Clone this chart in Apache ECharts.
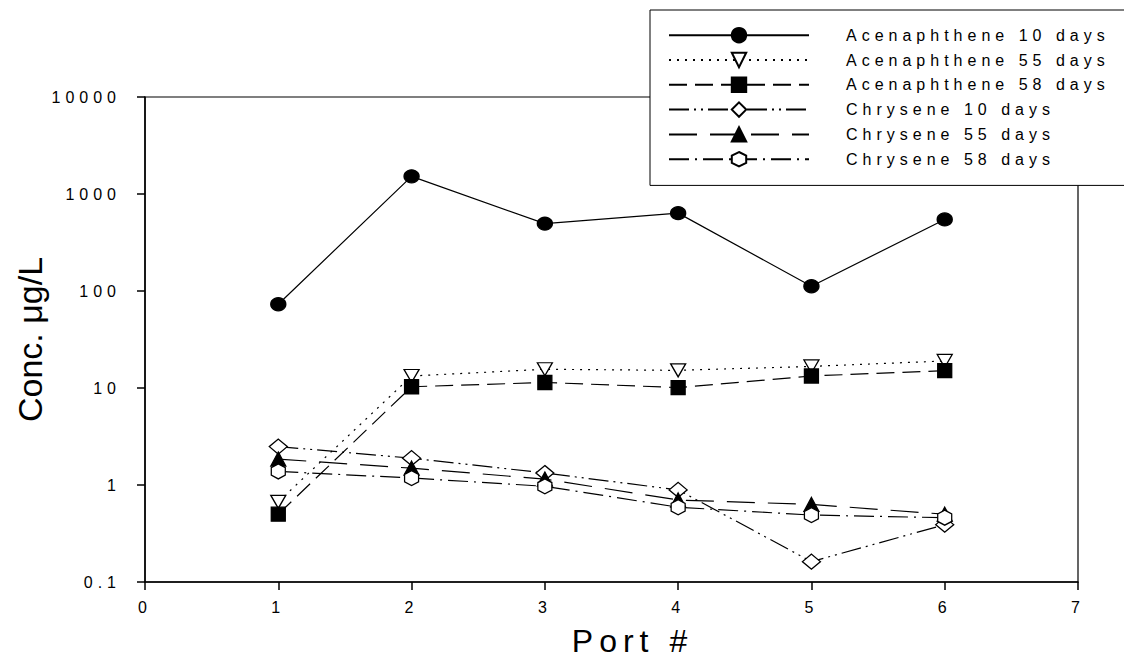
<!DOCTYPE html>
<html><head><meta charset="utf-8">
<script src="https://cdn.jsdelivr.net/npm/echarts@6/dist/echarts.min.js"></script>
<style>
html,body{margin:0;padding:0;background:#fff;}
#chart{width:1124px;height:662px;}
#chart text[style*="Arial"]{letter-spacing:5px;}
#chart text[style*="32px"]{letter-spacing:6px;}
</style></head><body><div id="chart"></div>
<script>
const ports = [1, 2, 3, 4, 5, 6];
const seriesNames = ['Acenaphthene 10 days', 'Acenaphthene 55 days', 'Acenaphthene 58 days', 'Chrysene 10 days', 'Chrysene 55 days', 'Chrysene 58 days'];
const acen10 = [73, 1520, 495, 635, 112, 547];
const acen55 = [0.67, 13.3, 15.6, 15.2, 16.7, 19.0];
const acen58 = [0.50, 10.3, 11.4, 10.1, 13.3, 15.1];
const chry10 = [2.49, 1.89, 1.33, 0.89, 0.162, 0.39];
const chry55 = [1.85, 1.49, 1.15, 0.70, 0.63, 0.50];
const chry58 = [1.38, 1.18, 0.97, 0.59, 0.49, 0.46];
const yTickLabels = ['0.1', '1', '10', '100', '1000', '10000'];
const xTickLabels = ['0', '1', '2', '3', '4', '5', '6', '7'];

const pair = arr => ports.map((p, i) => [p, arr[i]]);
const HEX = 'path://M50,0 L93.3,25 L93.3,75 L50,100 L6.7,75 L6.7,25 Z';
const TRI_DOWN = 'path://M0,0 L100,0 L50,87 Z';

function mk(name, data, symbol, size, fill, dash) {
  return {
    name: name, type: 'line', data: pair(data),
    symbol: symbol, symbolSize: size, showSymbol: true,
    lineStyle: { color: '#000', width: 1.2, type: dash },
    itemStyle: { color: fill, borderColor: '#000', borderWidth: 1.3 },
    emphasis: { disabled: true }
  };
}

const chart = echarts.init(document.getElementById('chart'), null, { renderer: 'svg' });
chart.setOption({
  animation: false,
  backgroundColor: '#fff',
  grid: { left: 145, right: 46, top: 97, bottom: 77, show: true, borderColor: '#000', borderWidth: 1.2, backgroundColor: 'transparent' },
  legend: {
    orient: 'vertical', left: 650, top: 10,
    itemWidth: 140, itemHeight: 18, itemGap: 8.4,
    padding: [17, 140, 18, 18],
    backgroundColor: '#fff', borderColor: '#000', borderWidth: 1,
    textStyle: { fontFamily: 'Arial', fontSize: 16, color: '#000', padding: [0, 0, 0, 32] },
    data: seriesNames
  },
  xAxis: {
    type: 'value', min: 0, max: 7, interval: 1,
    axisLine: { show: true, onZero: false, lineStyle: { color: '#000', width: 1.5 } },
    axisTick: { show: true, length: 8, lineStyle: { color: '#000', width: 1.5 } },
    splitLine: { show: false },
    axisLabel: { fontFamily: 'Arial', fontSize: 16, color: '#000', margin: 17, formatter: v => xTickLabels[Math.round(v)] },
    name: 'Port #', nameLocation: 'middle', nameGap: 43,
    nameTextStyle: { fontFamily: 'Arial', fontSize: 32, color: '#000', padding: [0, 0, 0, 42] }
  },
  yAxis: {
    type: 'log', logBase: 10, min: 0.1, max: 10000,
    axisLine: { show: true, onZero: false, lineStyle: { color: '#000', width: 1.5 } },
    axisTick: { show: true, length: 8, lineStyle: { color: '#000', width: 1.5 } },
    splitLine: { show: false },
    minorTick: { show: false },
    axisLabel: { fontFamily: 'Arial', fontSize: 16, color: '#000', margin: 24,
      formatter: v => yTickLabels[Math.round(Math.log10(v)) + 1] },
    name: 'Conc. μg/L', nameLocation: 'middle', nameGap: 98,
    nameTextStyle: { fontFamily: 'Liberation Sans', fontSize: 34, color: '#000' }
  },
  series: [
    mk(seriesNames[0], acen10, 'circle', [15, 13], '#000', 'solid'),
    mk(seriesNames[1], acen55, TRI_DOWN, [15, 13], '#fff', [2, 6]),
    mk(seriesNames[2], acen58, 'rect', 14, '#000', [18, 8]),
    mk(seriesNames[3], chry10, 'diamond', [18, 15], '#fff', [20, 5, 2, 5, 2, 5]),
    mk(seriesNames[4], chry55, 'triangle', [15, 14], '#000', [28, 13]),
    mk(seriesNames[5], chry58, HEX, [14, 15], '#fff', [20, 6, 2, 6])
  ]
});
</script></body></html>
